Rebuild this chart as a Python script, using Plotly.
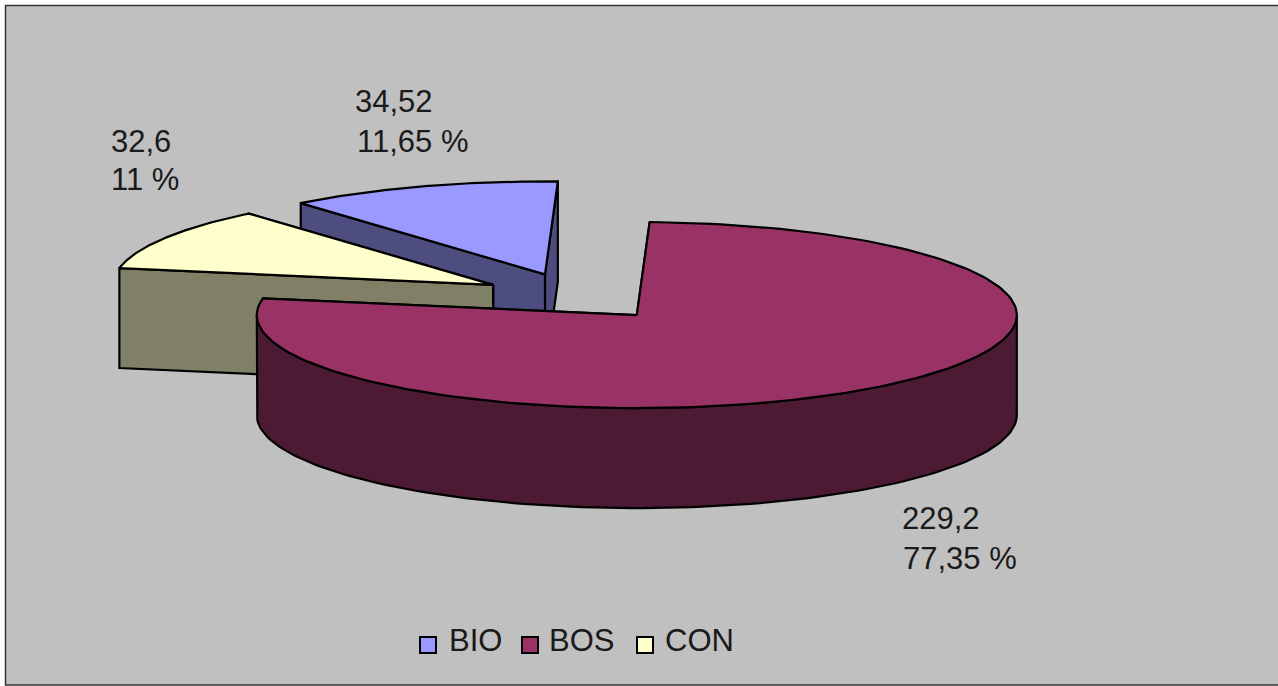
import numpy as np
import plotly.graph_objects as go

# ---- data ----
categories = ["BIO", "BOS", "CON"]
values = [34.52, 229.2, 32.6]
value_labels = ["34,52", "229,2", "32,6"]
percent_labels = ["11,65 %", "77,35 %", "11 %"]

# ---- style ----
top_colors = ["#9999FF", "#993366", "#FFFFCC"]
side_colors = ["#4D4D80", "#4D1A33", "#808066"]
BACKGROUND = "#C0C0C0"
FONT = "Liberation Sans"

# ---- layout of the projected pie (page pixels) ----
W, H = 1278, 686
CX, CY = 576.4, 296.7      # centre of pie before explosion
RX, RY = 380, 93           # ellipse radii of the tilted disc
DEPTH = 100                # height of the extruded disc
EXPLODE = 0.2535           # explosion as a fraction of radius
FIRST_ANGLE = 320.0        # clockwise from 12 o'clock, in degrees
PAINT_ORDER = ["BIO", "CON", "BOS"]

value_anchor = {"BIO": (354, 101), "BOS": (901, 518), "CON": (110, 141)}
percent_anchor = {"BIO": (356, 141), "BOS": (902, 558), "CON": (110, 179)}
legend_swatch_x = [428, 530, 645]
legend_text_x = [448, 548, 664]
LEGEND_SWATCH_Y, LEGEND_TEXT_Y = 645, 640


def pt(cx, cy, deg):
    t = np.radians(deg)
    return cx + RX * np.sin(t), cy - RY * np.cos(t)


def poly_trace(xs, ys, color):
    return go.Scatter(
        x=list(xs) + [xs[0]], y=list(ys) + [ys[0]],
        mode="lines", fill="toself", fillcolor=color,
        line=dict(color="black", width=2.2, shape="linear"),
        hoverinfo="skip", showlegend=False,
    )


fractions = np.array(values) / np.sum(values)
spans = fractions * 360
starts = FIRST_ANGLE + np.concatenate([[0], np.cumsum(spans)[:-1]])

traces = []
for name in PAINT_ORDER:
    i = categories.index(name)
    a0, a1 = starts[i], starts[i] + spans[i]
    mid = (a0 + a1) / 2
    cx, cy = pt(CX, CY, mid)
    cx = CX + (cx - CX) * EXPLODE
    cy = CY + (cy - CY) * EXPLODE

    # radial faces: far one first
    for a in (a1, a0):
        x, y = pt(cx, cy, a)
        traces.append(poly_trace([cx, x, x, cx], [cy, y, y + DEPTH, cy + DEPTH], side_colors[i]))

    # outer curved wall: only the front half of the disc (90..270 degrees)
    lo = max(a0 % 360 if a0 % 360 < a1 % 360 else a0 % 360 - 360, 90)
    hi = min(lo + spans[i], 270)
    if hi > lo:
        ang = np.linspace(lo, hi, 120)
        ax, ay = pt(cx, cy, ang)
        xs = np.concatenate([ax, ax[::-1]])
        ys = np.concatenate([ay, ay[::-1] + DEPTH])
        traces.append(poly_trace(xs.tolist(), ys.tolist(), side_colors[i]))

    # top face
    ang = np.linspace(a0, a1, 180)
    ax, ay = pt(cx, cy, ang)
    traces.append(poly_trace([cx] + ax.tolist(), [cy] + ay.tolist(), top_colors[i]))

# legend swatches
traces.append(go.Scatter(
    x=legend_swatch_x, y=[LEGEND_SWATCH_Y] * 3, mode="markers",
    marker=dict(symbol="square", size=16, color=top_colors, line=dict(color="black", width=2)),
    hoverinfo="skip", showlegend=False,
))

annotations = []


def add_text(x, y, text, size):
    annotations.append(dict(
        x=x, y=y, text=text, showarrow=False, xanchor="left", yanchor="middle",
        xref="x", yref="y", borderpad=0, font=dict(family=FONT, size=size, color="#1A1A1A"),
    ))


for i, name in enumerate(categories):
    add_text(*value_anchor[name], value_labels[i], 31)
    add_text(*percent_anchor[name], percent_labels[i], 31)
    add_text(legend_text_x[i], LEGEND_TEXT_Y, name, 31)

fig = go.Figure(traces)
fig.update_layout(
    width=W, height=H, margin=dict(l=0, r=0, t=0, b=0),
    paper_bgcolor="white", plot_bgcolor="white", showlegend=False,
    xaxis=dict(range=[0, W], visible=False, fixedrange=True),
    yaxis=dict(range=[H, 0], visible=False, fixedrange=True),
    annotations=annotations,
    shapes=[dict(type="rect", x0=5.5, y0=5.5, x1=W + 5, y1=685, layer="below",
                 fillcolor=BACKGROUND, line=dict(color="#333333", width=1.5))],
)
fig.write_html(
    "out.html",
    config=dict(displayModeBar=False),
    post_script="document.body.style.margin='0';document.body.style.overflow='hidden';",
)
